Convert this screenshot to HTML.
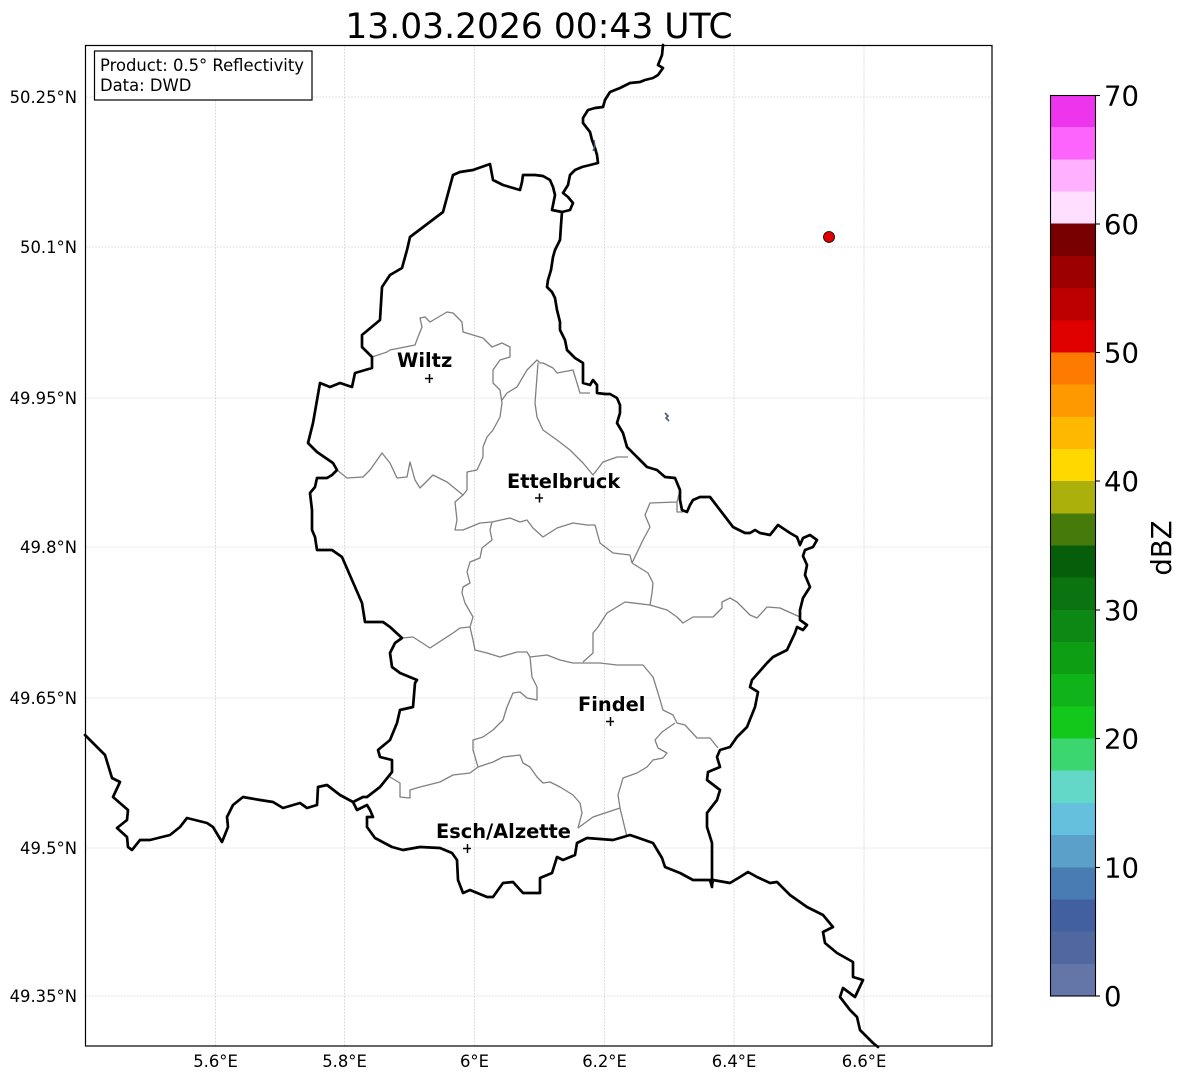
<!DOCTYPE html>
<html><head><meta charset="utf-8"><style>
html,body{margin:0;padding:0;background:#fff;}
svg{display:block;}
text{font-family:"DejaVu Sans","Liberation Sans",sans-serif;}
</style></head><body>
<svg width="1184" height="1081" viewBox="0 0 1184 1081" xmlns="http://www.w3.org/2000/svg">
<rect width="1184" height="1081" fill="#fff"/>
<text x="539" y="38" font-size="34.5" text-anchor="middle" fill="#000">13.03.2026 00:43 UTC</text>
<!-- grid -->
<g stroke="#c6c6c6" stroke-width="0.6" stroke-dasharray="2,1.2" fill="none">
<line x1="215.5" y1="45.5" x2="215.5" y2="1046"/>
<line x1="344.5" y1="45.5" x2="344.5" y2="1046"/>
<line x1="474.5" y1="45.5" x2="474.5" y2="1046"/>
<line x1="604.5" y1="45.5" x2="604.5" y2="1046"/>
<line x1="734" y1="45.5" x2="734" y2="1046"/>
<line x1="864" y1="45.5" x2="864" y2="1046"/>
<line x1="85.5" y1="97" x2="992" y2="97"/>
<line x1="85.5" y1="247" x2="992" y2="247"/>
<line x1="85.5" y1="398" x2="992" y2="398"/>
<line x1="85.5" y1="547" x2="992" y2="547"/>
<line x1="85.5" y1="698" x2="992" y2="698"/>
<line x1="85.5" y1="848" x2="992" y2="848"/>
<line x1="85.5" y1="996" x2="992" y2="996"/>
</g>
<!-- canton lines -->
<g stroke="#808080" stroke-width="1.3" fill="none" stroke-linejoin="round">
<polyline points="372,357 387,352 390,350 415,345 418,337 422,327 420,318 425,317 430,322 447,312 453,313 462,322 463,332 483,338 492,347 502,343 510,347 510,357 500,360 493,370 493,383 500,390 502,403 500,417 493,430 487,437 483,447 483,457 477,470 467,472 467,490 463,495"/>
<polyline points="502,400 507,393 517,387 527,370 537,360 540,363 543,363 553,368 557,373 573,370 577,383 580,393 590,393"/>
<polyline points="538,363 535,403 537,417 543,430 557,440 570,450 583,463 593,475 603,462 617,457 628,457"/>
<polyline points="337,470 347,478 363,477 370,470 382,453 390,463 397,478 407,477 410,462 415,480 420,488 433,475 447,482 463,495 455,502 457,520 455,530 463,530 480,523 492,522 510,518 520,522 527,520 533,528 543,537 557,528 573,523 587,525 595,525 600,543 613,553 630,555 632,563"/>
<polyline points="632,563 643,540 650,527 645,515 650,503 677,502 679,494"/>
<polyline points="677,502 677,512 683,512"/>
<polyline points="632,563 640,568 648,573 653,583 652,593 650,605 667,610 677,617 683,623 693,617 713,617 722,608 722,602 730,598 737,602 750,615 757,618 767,607 780,608 800,617"/>
<polyline points="650,605 625,602 607,613 598,627 593,633 593,653 583,662"/>
<polyline points="583,663 573,663 560,660 547,655 530,657 527,652 517,652 500,657 487,653 475,650 473,640 470,627"/>
<polyline points="402,638 413,637 430,648 453,633 460,628 470,627 473,617 465,603 462,593 463,587 470,583 467,572 470,562 480,558 482,548 492,540 490,530 492,522"/>
<polyline points="583,663 600,663 617,665 643,665 653,677 658,693 663,710 673,715 677,723 685,725 697,738 710,738 718,748"/>
<polyline points="530,657 532,677 537,687 537,700 527,698 520,692 513,693 507,707 503,720 493,730 483,737 473,740 473,750 478,767 470,773 453,775 440,782 420,787 410,790 410,798 400,797 400,783 390,777"/>
<polyline points="478,767 493,762 503,757 520,755 523,763 530,767 537,777 543,783 550,782 560,787 573,795 580,803 582,813 578,828"/>
<polyline points="578,828 593,817 620,808 627,837"/>
<polyline points="620,808 618,795 623,778 637,773 647,767 653,760 663,758 667,753 658,748 655,740 662,732 675,723"/>
</g>
<!-- country borders -->
<g stroke="#000" stroke-width="2.7" fill="none" stroke-linejoin="round" stroke-linecap="round">
<polyline points="453,175 460,172 473,170 490,164 493,180 503,185 520,190 522,182 523,175 535,175 543,176 550,180 553,187 555,195 553,205 552,210 562,212 561,225 560,240 555,250 553,257 551,270 548,280 547,287 552,292 555,298 557,310 560,322 560,330 565,340 567,350 575,358 583,363 583,373 583,383 590,385 593,380 597,385 597,393 605,394 610,394 617,398 620,405 620,413 617,423 623,433 627,447 637,457 647,467 657,470 665,477 675,478 680,490 680,500 682,510 687,512 690,505 693,500 700,497 710,497 720,510 733,527 745,533 750,533 755,530 760,533 770,535 778,525 790,533 797,537 800,545 803,538 810,535 817,540 813,547 805,550 803,556 807,565 805,575 810,587 803,598 800,610 800,620 807,625 803,630 797,627 795,633 787,650 773,657 767,663 752,680 750,687 758,692 755,707 747,727 737,737 730,747 720,750 717,757 720,767 708,772 707,780 720,790 717,800 707,813 707,827 712,843 712,887 710,880 693,880 680,873 665,867 662,858 653,843 630,835 613,840 587,838 577,843 575,855 563,860 557,857 552,873 540,878 540,893 523,893 513,882 503,883 493,897 487,897 470,890 463,893 458,880 457,860 452,853 440,848 420,847 403,850 392,847 375,838 367,827 367,817 373,817 370,810 367,805 357,810 353,802 363,797 367,797 380,787 392,772 392,760 380,757 378,750 390,740 397,723 400,710 413,707 415,683 417,680 400,673 392,667 390,653 395,643 402,638 390,627 383,622 365,622 362,603 342,557 332,550 317,550 315,537 312,530 312,510 310,493 315,487 317,478 327,478 332,475 337,470 333,463 317,452 308,443 313,423 320,383 330,387 340,383 352,387 355,373 372,368 372,357 362,347 362,335 380,320 382,287 390,275 402,268 407,250 410,237 443,212 453,175"/>
<polyline points="353,802 340,795 327,785 318,787 317,805 307,808 300,803 283,808 273,802 260,800 243,797 233,805 227,817 228,827 222,842 213,827 207,823 187,818 180,827 170,835 150,840 140,840 132,850 128,847 127,837 117,828 127,820 128,810 113,797 120,782 112,778 105,755 87,737 85,735"/>
<polyline points="663,45 662,55 658,65 663,68 658,75 653,78 645,80 640,82 630,83 620,88 610,92 605,100 603,107 595,108 588,110 583,118 583,123 590,132 592,140 595,148 597,155 598,163 590,165 582,167 575,170 570,175 568,185 563,193 568,197 573,203 570,210 562,212"/>
<polyline points="712,885 713,880 730,883 740,877 748,872 757,877 770,883 777,882 790,895 807,907 823,915 833,927 823,932 825,943 837,953 853,962 853,977 863,980 855,997 843,988 840,997 850,1010 857,1017 860,1030 873,1043 878,1047"/>
</g>
<!-- small features -->
<path d="M665,413 L668,416 L666,418 L669,421" stroke="#4a5a80" stroke-width="1.6" fill="none"/>
<path d="M594,140 L595,146 L593,151" stroke="#4a5a80" stroke-width="1.4" fill="none"/>
<circle cx="829" cy="237" r="5.5" fill="#e00000" stroke="#000" stroke-width="0.8"/>
<!-- city markers -->
<g stroke="#000" stroke-width="1.5">
<line x1="425" y1="378.5" x2="433" y2="378.5"/><line x1="429.5" y1="374" x2="429.5" y2="383"/>
<line x1="535" y1="498" x2="543" y2="498"/><line x1="539.5" y1="493.5" x2="539.5" y2="502.5"/>
<line x1="606" y1="721.5" x2="614" y2="721.5"/><line x1="610.5" y1="717" x2="610.5" y2="726"/>
<line x1="463" y1="848.5" x2="471" y2="848.5"/><line x1="467.5" y1="844" x2="467.5" y2="853"/>
</g>
<g font-size="19.4" font-weight="bold" fill="#000">
<text x="397" y="367">Wiltz</text>
<text x="507" y="488">Ettelbruck</text>
<text x="578" y="711">Findel</text>
<text x="436" y="838">Esch/Alzette</text>
</g>
<!-- axes frame -->
<rect x="85.5" y="45.5" width="906.5" height="1000.5" fill="none" stroke="#000" stroke-width="1.2"/>
<!-- info box -->
<rect x="94.5" y="51" width="217.5" height="49" fill="#fff" stroke="#000" stroke-width="1.2"/>
<g font-size="16.4" fill="#000">
<text x="100" y="71">Product: 0.5° Reflectivity</text>
<text x="100" y="91">Data: DWD</text>
</g>
<!-- tick labels -->
<g font-size="16.4" fill="#000" text-anchor="end">
<text x="77" y="103">50.25°N</text>
<text x="77" y="253">50.1°N</text>
<text x="77" y="404">49.95°N</text>
<text x="77" y="553">49.8°N</text>
<text x="77" y="704">49.65°N</text>
<text x="77" y="854">49.5°N</text>
<text x="77" y="1002">49.35°N</text>
</g>
<g font-size="16.4" fill="#000" text-anchor="middle">
<text x="215.5" y="1067">5.6°E</text>
<text x="344.5" y="1067">5.8°E</text>
<text x="474.5" y="1067">6°E</text>
<text x="604.5" y="1067">6.2°E</text>
<text x="734" y="1067">6.4°E</text>
<text x="864" y="1067">6.6°E</text>
</g>
<!-- colorbar -->
<g shape-rendering="crispEdges">
<rect x="1050" y="95" width="45" height="32.4" fill="#ec35ec"/>
<rect x="1050" y="127.2" width="45" height="32.4" fill="#fd64fd"/>
<rect x="1050" y="159.4" width="45" height="32.4" fill="#ffb0ff"/>
<rect x="1050" y="191.5" width="45" height="32.4" fill="#ffdfff"/>
<rect x="1050" y="223.7" width="45" height="32.4" fill="#780000"/>
<rect x="1050" y="255.9" width="45" height="32.4" fill="#9c0000"/>
<rect x="1050" y="288.1" width="45" height="32.4" fill="#bc0000"/>
<rect x="1050" y="320.3" width="45" height="32.4" fill="#e00000"/>
<rect x="1050" y="352.4" width="45" height="32.4" fill="#ff7a00"/>
<rect x="1050" y="384.6" width="45" height="32.4" fill="#ff9900"/>
<rect x="1050" y="416.8" width="45" height="32.4" fill="#ffb800"/>
<rect x="1050" y="449" width="45" height="32.4" fill="#ffd800"/>
<rect x="1050" y="481.1" width="45" height="32.4" fill="#acb00a"/>
<rect x="1050" y="513.3" width="45" height="32.4" fill="#467a0a"/>
<rect x="1050" y="545.5" width="45" height="32.4" fill="#065e0a"/>
<rect x="1050" y="577.7" width="45" height="32.4" fill="#0b7410"/>
<rect x="1050" y="609.9" width="45" height="32.4" fill="#0e8814"/>
<rect x="1050" y="642" width="45" height="32.4" fill="#0e9e14"/>
<rect x="1050" y="674.2" width="45" height="32.4" fill="#10b41a"/>
<rect x="1050" y="706.4" width="45" height="32.4" fill="#12c81a"/>
<rect x="1050" y="738.6" width="45" height="32.4" fill="#3cd670"/>
<rect x="1050" y="770.7" width="45" height="32.4" fill="#64d8c8"/>
<rect x="1050" y="802.9" width="45" height="32.4" fill="#64c0dc"/>
<rect x="1050" y="835.1" width="45" height="32.4" fill="#5aa0c8"/>
<rect x="1050" y="867.3" width="45" height="32.4" fill="#4a7cb4"/>
<rect x="1050" y="899.4" width="45" height="32.4" fill="#4260a0"/>
<rect x="1050" y="931.6" width="45" height="32.4" fill="#50689e"/>
<rect x="1050" y="963.8" width="45" height="32.2" fill="#6476a8"/>
</g>
<rect x="1050.5" y="95.5" width="45" height="900.5" fill="none" stroke="#000" stroke-width="1.1"/>
<g stroke="#000" stroke-width="1.1">
<line x1="1095" y1="95.5" x2="1100" y2="95.5"/>
<line x1="1095" y1="224" x2="1100" y2="224"/>
<line x1="1095" y1="352.5" x2="1100" y2="352.5"/>
<line x1="1095" y1="481" x2="1100" y2="481"/>
<line x1="1095" y1="610" x2="1100" y2="610"/>
<line x1="1095" y1="738.5" x2="1100" y2="738.5"/>
<line x1="1095" y1="867.5" x2="1100" y2="867.5"/>
<line x1="1095" y1="996" x2="1100" y2="996"/>
</g>
<g font-size="27.5" fill="#000">
<text x="1104" y="105.5">70</text>
<text x="1104" y="234">60</text>
<text x="1104" y="362.5">50</text>
<text x="1104" y="491">40</text>
<text x="1104" y="620">30</text>
<text x="1104" y="748.5">20</text>
<text x="1104" y="877.5">10</text>
<text x="1104" y="1006">0</text>
</g>
<text x="0" y="0" font-size="27.5" fill="#000" text-anchor="middle" transform="translate(1171,548) rotate(-90)">dBZ</text>
</svg>
</body></html>
